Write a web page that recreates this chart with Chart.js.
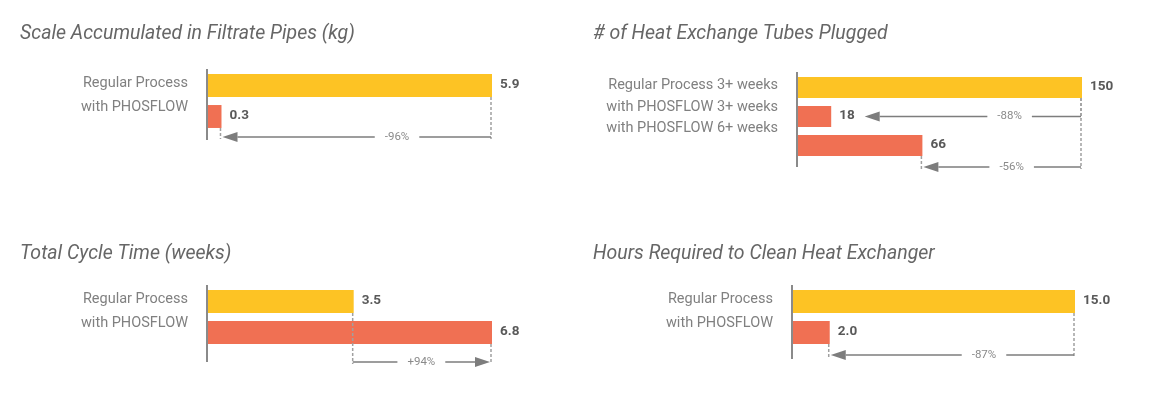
<!DOCTYPE html>
<html>
<head>
<meta charset="utf-8">
<script src="https://cdn.jsdelivr.net/npm/chart.js@4"></script>
<style>
  body { margin: 0; background: #fff; width: 1165px; height: 419px; position: relative; overflow: hidden; }
  canvas { position: absolute; }
</style>
</head>
<body>
<canvas id="scale-chart" width="570" height="205" style="left:0;top:0"></canvas>
<canvas id="tube-chart" width="595" height="205" style="left:570px;top:0"></canvas>
<canvas id="cycle-chart" width="570" height="204" style="left:0;top:215px"></canvas>
<canvas id="clean-chart" width="595" height="204" style="left:570px;top:215px"></canvas>
<script>
// Data
var scaleCategories = ["Regular Process", "with PHOSFLOW"];
var scaleValues = [5.9, 0.3];
var scaleChanges = ["-96%"];

var tubeCategories = ["Regular Process 3+ weeks", "with PHOSFLOW 3+ weeks", "with PHOSFLOW 6+ weeks"];
var tubeValues = [150, 18, 66];
var tubeChanges = ["-88%", "-56%"];

var cycleCategories = ["Regular Process", "with PHOSFLOW"];
var cycleValues = [3.5, 6.8];
var cycleChanges = ["+94%"];

var cleanCategories = ["Regular Process", "with PHOSFLOW"];
var cleanValues = [15.0, 2.0];
var cleanChanges = ["-87%"];

var YELLOW = "#FDC324";
var ORANGE = "#F07053";
var FONT = "Roboto, 'Open Sans', sans-serif";

function drawArrow(ctx, x1, x2, y, text, at) {
  // x1 = start, x2 = arrow tip
  var dir = x2 > x1 ? 1 : -1;
  var head = 15;
  var lx = x2 + (x1 - x2) * at;
  ctx.font = "11.5px " + FONT;
  var w = ctx.measureText(text).width;
  var gap = w / 2 + 10;
  ctx.strokeStyle = "#7d7d7d";
  ctx.lineWidth = 1.5;
  ctx.setLineDash([]);
  ctx.beginPath();
  ctx.moveTo(x1, y);
  ctx.lineTo(lx - dir * gap, y);
  ctx.moveTo(lx + dir * gap, y);
  ctx.lineTo(x2 - dir * head, y);
  ctx.stroke();
  ctx.fillStyle = "#7d7d7d";
  ctx.beginPath();
  ctx.moveTo(x2, y);
  ctx.lineTo(x2 - dir * head, y - 5);
  ctx.lineTo(x2 - dir * head, y + 5);
  ctx.closePath();
  ctx.fill();
  ctx.fillStyle = "#8a8a8a";
  ctx.textAlign = "center";
  ctx.textBaseline = "middle";
  ctx.fillText(text, lx, y);
}

function dashed(ctx, x, y1, y2) {
  ctx.strokeStyle = "#a0a0a0";
  ctx.lineWidth = 1.5;
  ctx.setLineDash([3, 2]);
  ctx.beginPath();
  ctx.moveTo(x, y1);
  ctx.lineTo(x, y2);
  ctx.stroke();
  ctx.setLineDash([]);
}

var decorPlugin = {
  id: "decor",
  afterDatasetsDraw: function (chart, args, opts) {
    var ctx = chart.ctx;
    var area = chart.chartArea;
    var bars = chart.getDatasetMeta(0).data;
    var values = chart.data.datasets[0].data;
    ctx.save();

    // title
    ctx.font = "italic 19.5px " + FONT;
    ctx.fillStyle = "#666";
    ctx.textAlign = "left";
    ctx.textBaseline = "middle";
    ctx.fillText(opts.title, opts.titleX, opts.titleY);

    // category labels (stacked block left of the axis)
    ctx.font = "14.5px " + FONT;
    ctx.fillStyle = "#808080";
    ctx.textAlign = "right";
    chart.data.labels.forEach(function (label, i) {
      ctx.fillText(label, area.left - 19, bars[0].y - 2 + i * opts.lineH);
    });

    // value labels
    ctx.font = "bold 13.5px " + FONT;
    ctx.fillStyle = "#595959";
    ctx.textAlign = "left";
    var ends = [];
    bars.forEach(function (bar, i) {
      var txt = values[i].toFixed(opts.decimals);
      ctx.fillText(txt, bar.x + 8, bar.y - 1);
      ends.push(bar.x + 8 + ctx.measureText(txt).width);
    });

    // change arrows
    opts.notes.forEach(function (n) {
      var from = bars[n.from], to = bars[n.to];
      var y, tip;
      if (n.row === "bar") {
        y = to.y;
        tip = ends[n.to] + 10;
      } else {
        y = area.bottom + opts.arrowOffset;
        tip = to.x + (to.x > from.x ? -2 : 1);
        dashed(ctx, to.x - 1, to.y + to.height / 2, y + 2);
      }
      dashed(ctx, from.x - 1, from.y + from.height / 2, y + 2);
      drawArrow(ctx, from.x - 1, tip, y, n.text, n.labelAt);
    });

    // axis line
    ctx.strokeStyle = "#8a8a8a";
    ctx.lineWidth = 2;
    ctx.beginPath();
    ctx.moveTo(area.left, area.top - 1);
    ctx.lineTo(area.left, area.bottom + opts.axisExt);
    ctx.stroke();
    ctx.restore();
  },
};

function makePanel(id, categories, values, padding, deco) {
  var colors = values.map(function (v, i) {
    return i === 0 ? YELLOW : ORANGE;
  });
  new Chart(document.getElementById(id).getContext("2d"), {
    type: "bar",
    data: {
      labels: categories,
      datasets: [
        {
          data: values,
          backgroundColor: colors,
          barPercentage: deco.barPct,
          categoryPercentage: 1,
        },
      ],
    },
    options: {
      indexAxis: "y",
      responsive: false,
      animation: false,
      layout: { padding: padding },
      scales: {
        x: { display: false, min: 0, max: Math.max.apply(null, values) },
        y: { display: false },
      },
      plugins: {
        legend: { display: false },
        tooltip: { enabled: false },
        decor: deco,
      },
    },
    plugins: [decorPlugin],
  });
}

makePanel("scale-chart", scaleCategories, scaleValues,
  { left: 207, right: 78, top: 70, bottom: 73 },
  {
    title: "Scale Accumulated in Filtrate Pipes (kg)", titleX: 20, titleY: 34,
    lineH: 23.5, decimals: 1, barPct: 0.74, arrowOffset: 5, axisExt: 8,
    notes: [{ from: 0, to: 1, text: scaleChanges[0], row: "below", labelAt: 0.65 }],
  });

makePanel("tube-chart", tubeCategories, tubeValues,
  { left: 227, right: 83, top: 73, bottom: 45 },
  {
    title: "# of Heat Exchange Tubes Plugged", titleX: 23, titleY: 34,
    lineH: 21.5, decimals: 0, barPct: 0.72, arrowOffset: 7, axisExt: 7,
    notes: [
      { from: 0, to: 1, text: tubeChanges[0], row: "bar", labelAt: 0.67 },
      { from: 0, to: 2, text: tubeChanges[1], row: "below", labelAt: 0.56 },
    ],
  });

makePanel("cycle-chart", cycleCategories, cycleValues,
  { left: 207, right: 78, top: 71, bottom: 71 },
  {
    title: "Total Cycle Time (weeks)", titleX: 20, titleY: 39,
    lineH: 23.5, decimals: 1, barPct: 0.74, arrowOffset: 14, axisExt: 14,
    notes: [{ from: 0, to: 1, text: cycleChanges[0], row: "below", labelAt: 0.5 }],
  });

makePanel("clean-chart", cleanCategories, cleanValues,
  { left: 222, right: 90, top: 71, bottom: 71 },
  {
    title: "Hours Required to Clean Heat Exchanger", titleX: 23, titleY: 39,
    lineH: 23.5, decimals: 1, barPct: 0.74, arrowOffset: 7, axisExt: 11,
    notes: [{ from: 0, to: 1, text: cleanChanges[0], row: "below", labelAt: 0.63 }],
  });
</script>
</body>
</html>
